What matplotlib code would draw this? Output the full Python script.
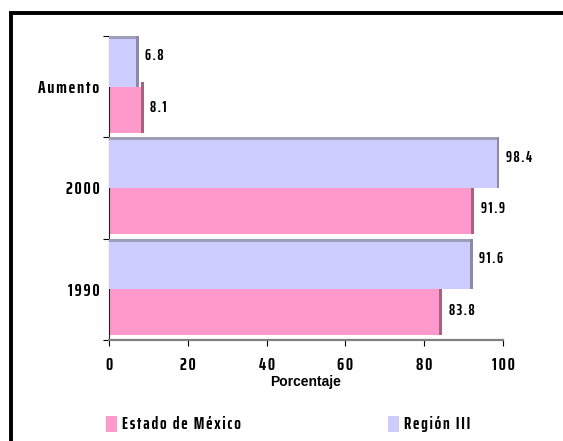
import matplotlib
matplotlib.use("Agg")
import matplotlib.pyplot as plt
from matplotlib.patches import Rectangle, Patch

# --- data ---
categorias = ["1990", "2000", "Aumento"]
estado_mexico = [83.8, 91.9, 8.1]
region_iii = [91.6, 98.4, 6.8]
x_ticks = [0, 20, 40, 60, 80, 100]
series_labels = ["Estado de México", "Región III"]

ROSA = "#FF99CC"
LILA = "#CCCCFF"
ROSA_LADO = "#A8627F"
LILA_LADO = "#8A8AA6"
LILA_TECHO = "#9E9EB8"

FAM = ["Saira ExtraCondensed", "DejaVu Sans"]


def spaced(s):
    # letter-spaced look of the labels
    return "\u200a".join(s)


fig = plt.figure(figsize=(5.63, 4.41), dpi=100)
ax = fig.add_axes([109 / 563, 1 - 340 / 441, (503 - 109) / 563, (340 - 36) / 441])

ys = list(range(len(categorias)))
h_lila, h_rosa, techo, lado = 0.47, 0.455, 0.03, 0.7

# pink bars (lower half of each band) with a darker side
ax.barh([y - h_rosa for y in ys], [lado] * 3, left=estado_mexico,
        height=[h_rosa + 0.05] * 3, align="edge", color=ROSA_LADO, zorder=1)
ax.barh([y - h_rosa for y in ys], estado_mexico, height=h_rosa,
        align="edge", color=ROSA, zorder=2)

# lavender bars (upper half) with top and side shading
ax.barh(ys, [lado] * 3, left=region_iii, height=h_lila + techo,
        align="edge", color=LILA_LADO, zorder=3)
ax.barh([y + h_lila for y in ys], region_iii, height=techo,
        align="edge", color=LILA_TECHO, zorder=3)
ax.barh(ys, region_iii, height=h_lila, align="edge", color=LILA, zorder=4)

for y, v in zip(ys, region_iii):
    ax.text(v + 2.4, y + 0.30, spaced(f"{v:.1f}"), family=FAM, weight="bold",
            fontsize=11, va="center", ha="left")
for y, v in zip(ys, estado_mexico):
    ax.text(v + 2.4, y - 0.21, spaced(f"{v:.1f}"), family=FAM, weight="bold",
            fontsize=11, va="center", ha="left")

ax.set_xlim(0, 100)
ax.set_ylim(-0.5, 2.5)
ax.set_xticks(x_ticks)
ax.set_xticklabels([spaced(str(t)) for t in x_ticks], family=FAM,
                   weight="bold", fontsize=13)
ax.set_yticks([-0.5, 0.5, 1.5, 2.5])
ax.set_yticklabels([])
ax.set_yticks(ys, minor=True)
ax.set_yticklabels([spaced(c) for c in categorias], minor=True, family=FAM,
                   weight="bold", fontsize=13)
ax.tick_params(axis="y", which="major", direction="out", length=4, width=0.8)
ax.tick_params(axis="y", which="minor", length=0, pad=7)
ax.tick_params(axis="x", direction="out", length=4, width=0.8, pad=8)

for s in ["top", "right"]:
    ax.spines[s].set_visible(False)
ax.spines["left"].set_color("#222222")
ax.spines["left"].set_linewidth(0.8)
ax.spines["bottom"].set_color("#808080")
ax.spines["bottom"].set_linewidth(1.6)

ax.set_xlabel("Porcentaje", family="Liberation Sans", weight="bold",
              fontsize=10, labelpad=2)

# one legend entry per series, each at its own spot along the bottom
for x0, patch, label in zip([106, 388], [ROSA, LILA], series_labels):
    fig.legend(handles=[Patch(fc=patch, ec="none")], labels=[spaced(label)],
               loc="center left", bbox_to_anchor=(x0 / 563, 1 - 424 / 441),
               frameon=False, handlelength=0.65, handleheight=1.05,
               handletextpad=0.3, borderpad=0, borderaxespad=0,
               prop={"family": FAM, "weight": "bold", "size": 12.5})

# outer frame, running off the right and bottom edges
fig.patches.append(Rectangle((11.3 / 563, -0.2), 1.5, 1.2 - 13.3 / 441,
                             transform=fig.transFigure, fill=False,
                             ec="black", lw=2.8))

fig.savefig("out.png", dpi=100)
